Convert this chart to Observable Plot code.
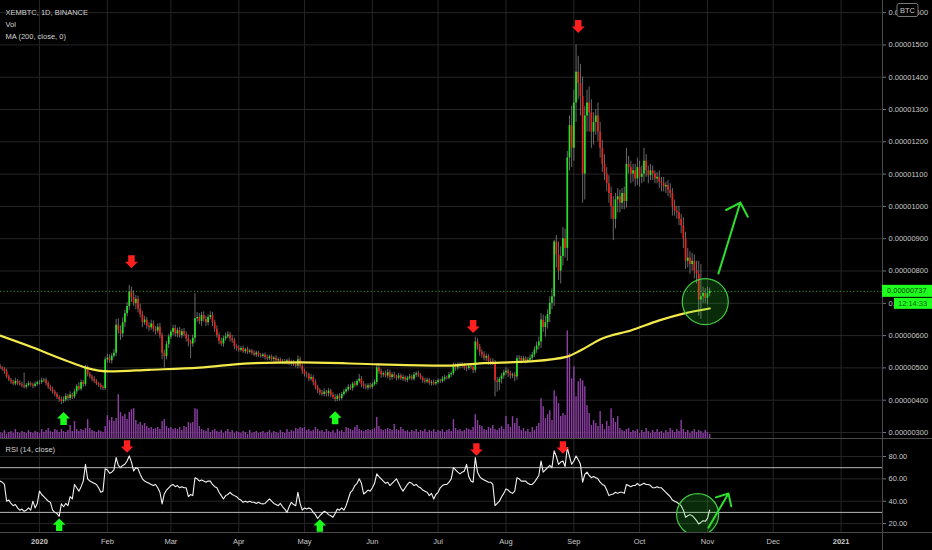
<!DOCTYPE html>
<html><head><meta charset="utf-8">
<script src="https://cdn.jsdelivr.net/npm/d3@7"></script>
<script src="https://cdn.jsdelivr.net/npm/@observablehq/plot@0.6"></script>
<style>
html,body{margin:0;padding:0;background:#000;}
#chart{position:relative;width:932px;height:550px;background:#000;overflow:hidden;}
#chart svg{position:absolute;left:0;background:transparent !important;}
</style></head>
<body><div id="chart"></div>
<script>
// ---------- DATA (prices in satoshi = 1e-8 BTC) ----------
const startDate = "2019-12-14";
const firstOpen = 505;
const close = [
500,496,488,472,462,456,450,458,452,448,
444,440,446,451,447,443,449,454,455,460,
462,452,440,432,425,418,408,402,396,400,
412,405,416,410,426,442,434,455,448,500,
480,472,465,458,450,446,440,436,525,530,
522,536,545,632,615,605,640,668,690,735,
718,700,712,682,665,640,648,630,624,636,
620,614,626,600,545,535,572,596,610,622,
605,615,600,612,604,590,580,574,592,652,
656,644,662,650,640,656,662,640,620,600,
582,574,590,596,602,590,584,566,560,555,
560,550,556,548,552,545,540,546,538,535,
540,532,528,534,526,530,522,525,518,520,
515,522,512,518,510,505,525,505,490,480,
478,465,470,455,440,430,422,418,425,420,
428,415,408,402,412,405,418,425,432,440,
436,450,446,458,465,448,442,438,445,440,
448,455,500,488,478,482,475,485,470,478,
472,468,475,466,470,462,468,472,465,478,
482,476,468,460,456,462,452,455,450,455,
460,458,465,470,468,478,482,505,500,510,
505,508,500,498,505,502,492,580,565,548,
540,530,535,520,518,515,460,455,465,475,
485,490,482,475,478,472,528,530,522,528,
520,524,530,540,555,568,580,648,625,640,
665,700,720,890,850,800,845,900,870,1150,
1250,1180,1320,1415,1380,1340,1100,1280,1320,1290,
1230,1260,1280,1230,1180,1130,1100,1070,1040,1000,
960,1020,1030,1010,1040,1015,1130,1120,1100,1110,
1085,1120,1090,1100,1140,1110,1095,1110,1100,1085,
1090,1075,1070,1060,1065,1050,1040,1000,985,980,
960,940,900,830,840,820,830,800,790,710,
720,730,715,730,737];
const wickUp = [
6,4,5,8,6,5,6,10,6,8,
8,40,6,7,5,6,8,5,6,8,
5,6,5,6,8,6,5,6,8,10,
8,6,10,6,8,6,12,8,6,8,
6,6,6,8,6,5,6,6,8,12,
10,8,12,18,20,15,15,10,12,20,
15,20,12,10,15,10,12,8,10,12,
10,8,10,12,8,10,10,8,6,10,
10,8,10,8,10,8,12,6,10,78,
15,12,10,12,10,8,12,10,8,10,
8,10,8,12,10,8,10,8,6,8,
6,8,5,8,6,5,8,6,5,6,
5,6,8,5,6,5,8,6,5,6,
6,5,8,6,5,6,12,8,6,6,
8,6,10,6,8,6,5,8,10,6,
8,6,8,10,6,8,6,8,6,8,
8,6,8,6,15,8,10,8,6,8,
6,8,8,12,8,6,8,10,8,6,
8,6,8,6,8,5,6,8,6,8,
6,8,6,5,8,6,5,6,8,6,
6,5,8,6,5,8,6,10,8,6,
6,8,6,5,8,6,10,15,10,8,
8,10,8,6,8,10,8,10,6,8,
8,10,6,8,6,8,10,8,6,8,
6,8,10,8,10,12,15,20,15,20,
15,20,25,5,20,40,30,35,30,20,
30,60,40,85,50,60,60,30,40,50,
40,30,20,40,30,25,30,20,25,20,
30,20,25,20,15,20,50,25,20,20,
20,30,20,25,40,20,15,20,15,10,
15,20,15,20,10,15,20,15,20,15,
20,15,25,20,30,20,25,20,30,40,
100,20,15,20,10];
const wickDown = [
5,6,8,6,5,7,5,6,6,5,
6,5,6,5,6,8,5,6,7,6,
6,8,6,5,6,8,6,8,10,6,
6,8,6,8,6,8,6,6,8,6,
8,6,8,6,5,6,8,6,6,10,
8,10,6,10,10,20,12,15,10,12,
15,10,20,12,10,15,8,10,12,8,
10,12,8,10,20,35,10,12,8,10,
10,12,8,10,8,10,15,45,10,15,
12,10,15,8,12,10,8,12,10,8,
10,8,10,8,6,10,8,10,8,6,
6,5,8,6,5,6,5,8,6,5,
5,8,6,5,6,8,5,6,5,8,
5,6,5,8,6,5,8,6,10,8,
10,8,6,10,8,10,8,6,8,10,
10,8,6,8,6,8,5,6,5,6,
6,8,6,5,6,10,8,6,8,6,
6,5,8,8,10,8,6,8,10,8,
6,8,6,5,8,6,8,6,5,6,
8,6,5,8,6,5,6,8,5,6,
5,6,5,8,6,5,8,6,10,8,
8,6,8,10,6,8,10,8,10,12,
10,8,10,12,10,8,50,30,25,15,
10,8,12,10,8,15,10,8,10,6,
8,6,8,10,8,10,12,20,15,30,
20,25,20,30,40,30,40,30,30,40,
40,60,40,60,50,60,90,80,50,60,
50,40,40,30,30,25,20,25,30,40,
66,30,40,30,20,25,20,20,30,25,
25,20,30,20,25,20,25,15,20,15,
15,20,25,15,20,20,15,30,15,20,
20,25,30,25,20,30,20,25,30,50,
60,20,15,20,10];
const volume = [
6,5,8,4,6,7,5,9,6,5,
7,6,5,8,6,5,7,6,5,9,
6,8,10,7,6,9,8,6,9,7,
6,8,13,7,17,9,7,9,8,10,
19,10,8,7,6,8,7,6,12,23,
18,21,17,20,44,26,22,24,19,26,
29,30,18,14,16,13,15,12,10,11,
9,10,11,9,17,19,12,10,11,9,
10,9,11,8,12,11,16,15,16,30,
29,12,9,8,7,10,6,8,9,7,
6,8,5,7,9,6,8,5,7,6,
5,7,6,4,8,5,6,7,5,6,
7,5,6,8,5,7,6,5,8,6,
5,9,6,8,7,10,9,11,10,11,
8,9,7,8,11,9,7,8,6,9,
7,6,8,5,9,7,8,6,11,10,
9,8,11,13,9,8,7,8,9,8,
9,10,21,12,9,8,9,10,9,8,
14,9,8,11,9,7,8,6,8,7,
9,6,8,7,9,6,8,7,9,6,
8,7,9,6,8,9,7,19,10,8,
9,7,8,10,9,8,11,24,18,13,
12,9,8,11,10,13,9,8,10,12,
9,22,14,11,22,15,20,12,8,10,
7,9,6,11,8,12,15,40,32,20,
24,28,18,48,42,35,22,25,23,108,
85,60,72,42,57,60,58,52,33,25,
13,18,15,12,27,14,9,17,12,30,
20,16,22,10,8,7,9,10,6,8,
7,9,5,8,6,10,7,5,8,6,
9,6,7,5,8,6,10,8,6,9,
7,18,9,6,8,5,7,9,6,8,
7,5,8,6,4];
const rsi = [
58,57,55,40,41,38,36,37,34,32,
33,31,32,34,32,40,34,38,49,46,
44,42,40,39,32,30,29,26.5,37.6,35,
38,36,44,42,55,52,49,53,58,73,
60,58,57,56,55,52,48,49,69,68,
65,66,68,79,72,70,72,73,76,80.5,
75,67,70,69,64,60,58,57,56,55,
54,55,52,48,37.6,46.5,50,52,54,55,
53,54,52,53,52,52,44,46,45,61,
60,58,59,58,57,58,58,55,53,52,
48,45,42,45,46,48,46,45,44,42,
41,39,40,39,40,39,39,38,39,38,
37.6,38,40,42,40,38,37,36,38,35,
33,30,35,39,37,36,48,38,32,34,
33,34,33,30,28,24.6,27,29,31,30,
28,27,25.6,29,33,32,34,32,36,42,
48,50,54,56,60,56,46.5,48,50,49,
52,56,64.5,62,60,58,56,57,54,56,
58,60,56,52,49,52,55,57,56,54,
55,53,52,50,49,48,45,47,42,46,
48,52,54,55,55,57,60,70,68,66,
64.5,66,67,73,62,58,57,79,66,62,
60,59,58,57,57,55,36,38,40,44,
47,51,50,48,47,49,61,60,58,58,
58,56,55,55,57,60,63,76,66,68,
70,72,70,85,80,73,75,76,71,88,
80,73,76,80.5,77,73,57,64,66,63,
61,62,61,60,57,55,54,50,45,46,
46.5,48,47,48,48,47,55,54,53,54,
54,56,54,55,56,55,55,54,52,52,
53,52,52,50,48,46,44,41,40,39,
37.6,36,32,25.6,27,28,27,25,22.6,19.6,
21,22.6,22,24.6,32];
const maDates = ["2019-12-14","2019-12-29","2020-01-13","2020-01-22","2020-02-02","2020-02-20","2020-03-14","2020-04-06","2020-04-29","2020-06-04","2020-07-05","2020-07-20","2020-08-12","2020-08-29","2020-09-04","2020-09-14","2020-09-27","2020-10-10","2020-10-21","2020-11-02"];
const maValues = [600,563,523,501,489,494,501,514,517,511,507,514,520,535,554,591,616,647,668,684];

const priceTicks = [300,400,500,600,700,800,900,1000,1100,1200,1300,1400,1500,1600];
const rsiTicks = [20,40,60,80];
const rsiBands = [70,30];
const xTickDates = ["2020-01-01","2020-02-01","2020-03-01","2020-04-01","2020-05-01","2020-06-01","2020-07-01","2020-08-01","2020-09-01","2020-10-01","2020-11-01","2020-12-01","2021-01-01"];
const xTickLabels = ["2020","Feb","Mar","Apr","May","Jun","Jul","Aug","Sep","Oct","Nov","Dec","2021"];
const headerLines = ["XEMBTC, 1D, BINANCE","Vol","MA (200, close, 0)"];
const rsiTitle = "RSI (14, close)";
const lastPrice = 737, lastPriceLabel = "0.00000737", countdown = "12:14:33", currency = "BTC";

const downArrowDates = ["2020-02-12","2020-07-17","2020-09-03"], downArrowPrices = [829,628,1557];
const upArrowDates = ["2020-01-12","2020-05-15"], upArrowPrices = [343,346];
const rsiDownDates = ["2020-02-10","2020-07-18T12:00Z","2020-08-27"], rsiDownValues = [89,86.3,88];
const rsiUpDates = ["2020-01-10","2020-05-08"], rsiUpValues = [19,18.2];
const circleMain = {date:"2020-10-31", value:705, r:23};
const circleRsi = {date:"2020-10-27T12:00Z", value:28, r:21};
const trendMain = {d1:"2020-11-06", v1:792, d2:"2020-11-16", v2:1012};
const trendRsi = {d1:"2020-11-01T12:00Z", v1:16.4, d2:"2020-11-10T14:00Z", v2:46.9};

// ---------- BUILD ----------
const D = s => new Date(s.length === 10 ? s + "T00:00Z" : s);
const t0 = D(startDate), DAY = 864e5;
const bars = close.map((c, i) => {
  const o = i ? close[i-1] : firstOpen;
  return {date: new Date(+t0 + i*DAY), open: o, close: c,
    high: Math.max(o,c) + wickUp[i], low: Math.min(o,c) - wickDown[i],
    volume: volume[i], rsi: rsi[i]};
});
const ma = maDates.map((d,i) => ({date: D(d), value: maValues[i]}));
const xTicks = xTickDates.map(D);
const monthTicks = xTicks.filter(d => d.getUTCMonth() !== 0);
const yearTicks = xTicks.filter(d => d.getUTCMonth() === 0);
const labelOf = d => xTickLabels[xTicks.findIndex(t => +t === +d)];
const pts = (ds, vs) => ds.map((d,i) => ({date: D(d), value: vs[i]}));

const xScale = {type: "utc", domain: [new Date("2019-12-14T05:00Z"), new Date("2021-01-19T22:00Z")], axis: null};
const W = 932, MR = 50, MAIN_H = 438, RSI_H = 112, RSI_MB = 18;
const FONT = "Liberation Sans, Arial, sans-serif";
const TXT = "#c9c9c9", GRID = "#262626", SEP = "#4a4a4a";
const UP = "#26e326", DOWN = "#e8261e", ARROW_G = "#19ff19", ARROW_R = "#ff1f1f";

const arrowDown = {draw(ctx, size){ const r = Math.sqrt(size/Math.PI);
  ctx.moveTo(-0.5*r,-r); ctx.lineTo(0.5*r,-r); ctx.lineTo(0.5*r,0); ctx.lineTo(r,0);
  ctx.lineTo(0,r); ctx.lineTo(-r,0); ctx.lineTo(-0.5*r,0); ctx.closePath(); }};
const arrowUp = {draw(ctx, size){ const r = Math.sqrt(size/Math.PI);
  ctx.moveTo(-0.5*r,r); ctx.lineTo(0.5*r,r); ctx.lineTo(0.5*r,0); ctx.lineTo(r,0);
  ctx.lineTo(0,-r); ctx.lineTo(-r,0); ctx.lineTo(-0.5*r,0); ctx.closePath(); }};

const baseStyle = {background: "transparent", color: TXT, fontFamily: FONT, fontSize: "7.5px"};
const chart = document.getElementById("chart");
function place(svg, top){ svg.style.position = "absolute"; svg.style.top = top + "px"; svg.style.left = "0px"; chart.appendChild(svg); }

// axis line on the right of a pane
const axisLine = (index, scales, values, dim) => {
  const g = d3.create("svg:g");
  const x = dim.width - dim.marginRight + 0.5;
  g.append("line").attr("x1", x).attr("x2", x).attr("y1", 0).attr("y2", dim.height).attr("stroke", SEP);
  return g.node();
};

// Layer 1: grid + price axis + currency badge
const layer1 = Plot.plot({
  width: W, height: MAIN_H, marginLeft: 0, marginRight: MR, marginTop: 0, marginBottom: 0,
  style: baseStyle, x: xScale, y: {domain: [281.4, 1637.5], axis: null},
  marks: [
    Plot.gridX(xTicks, {stroke: GRID, strokeOpacity: 1}),
    Plot.gridY(priceTicks, {stroke: GRID, strokeOpacity: 1}),
    Plot.axisY(priceTicks, {anchor: "right", tickSize: 3, tickPadding: 3, stroke: "#777", label: null,
      tickFormat: d => (d/1e8).toFixed(8)}),
    axisLine,
    (index, scales, values, dim) => {
      const g = d3.create("svg:g");
      const x0 = dim.width - dim.marginRight + 15;
      g.append("rect").attr("x", x0).attr("y", 3.5).attr("width", 21).attr("height", 13).attr("rx", 2)
        .attr("fill", "#000").attr("stroke", "#777");
      g.append("text").attr("x", x0 + 10.5).attr("y", 10).attr("dy", "0.35em").attr("text-anchor", "middle")
        .attr("fill", TXT).attr("font-size", "7.5px").text(currency);
      return g.node();
    }
  ]
});
place(layer1, 0);

// Layer 2: volume
const layer2 = Plot.plot({
  width: W, height: MAIN_H, marginLeft: 0, marginRight: MR, marginTop: 0, marginBottom: 0,
  style: baseStyle, x: xScale, y: {domain: [0, 440], axis: null},
  marks: [
    Plot.ruleX(bars, {x: "date", y1: 0, y2: "volume", stroke: "#8e3fa6", strokeWidth: 1.4})
  ]
});
place(layer2, 0);

// Layer 3: candles, MA, annotations
const layer3 = Plot.plot({
  width: W, height: MAIN_H, marginLeft: 0, marginRight: MR, marginTop: 0, marginBottom: 0,
  style: baseStyle, x: xScale, y: {domain: [281.4, 1637.5], axis: null},
  color: {type: "identity"},
  marks: [
    Plot.ruleY([lastPrice], {stroke: "#2f9a2f", strokeDasharray: "1.2,2.2"}),
    Plot.ruleX(bars, {x: "date", y1: "low", y2: "high", stroke: "#9a9a9a", strokeOpacity: 0.85, strokeWidth: 0.8}),
    Plot.ruleX(bars, {x: "date", y1: "open", y2: d => d.close === d.open ? d.close + 1.5 : d.close,
      stroke: d => d.close >= d.open ? UP : DOWN, strokeWidth: 1.7}),
    Plot.line(ma, {x: "date", y: "value", stroke: "#f4e94a", strokeWidth: 2.2, curve: "monotone-x"}),
    Plot.dot([circleMain], {x: d => D(d.date), y: "value", r: circleMain.r, fill: "#2bd62b", fillOpacity: 0.2, stroke: "#43c943", strokeWidth: 1.2}),
    Plot.arrow([trendMain], {x1: d => D(d.d1), y1: "v1", x2: d => D(d.d2), y2: "v2", stroke: "#2ee02e", strokeWidth: 2, headLength: 12, headAngle: 90}),
    Plot.dot(pts(downArrowDates, downArrowPrices), {x: "date", y: "value", symbol: arrowDown, r: 6.5, fill: ARROW_R, stroke: null}),
    Plot.dot(pts(upArrowDates, upArrowPrices), {x: "date", y: "value", symbol: arrowUp, r: 6.5, fill: ARROW_G, stroke: null}),
    Plot.text([headerLines.join("\n")], {frameAnchor: "top-left", dx: 5, dy: 6, lineHeight: 1.6, fill: "#d4d4d4", fontSize: 7.5}),
    (index, scales, values, dim) => {
      const y = scales.y(lastPrice);
      const x0 = dim.width - dim.marginRight;
      const g = d3.create("svg:g").attr("font-size", "7.5px").attr("text-anchor", "start");
      g.append("rect").attr("x", x0).attr("y", y - 6).attr("width", dim.marginRight).attr("height", 12).attr("fill", "#1eff1e");
      g.append("text").attr("x", x0 + 5).attr("y", y).attr("dy", "0.35em").attr("text-anchor", "start").attr("fill", "#0b3f0b").text(lastPriceLabel);
      g.append("rect").attr("x", x0 + 12).attr("y", y + 7).attr("width", dim.marginRight - 12).attr("height", 11).attr("fill", "#1eff1e");
      g.append("text").attr("x", x0 + 16).attr("y", y + 12.5).attr("dy", "0.35em").attr("text-anchor", "start").attr("fill", "#0b5a0b").text(countdown);
      return g.node();
    }
  ]
});
place(layer3, 0);

// Layer 4: RSI pane + date axis
const layer4 = Plot.plot({
  width: W, height: RSI_H, marginLeft: 0, marginRight: MR, marginTop: 0, marginBottom: RSI_MB,
  style: baseStyle, x: xScale, y: {domain: [12, 96.1], axis: null},
  marks: [
    Plot.gridX(xTicks, {stroke: GRID, strokeOpacity: 1}),
    Plot.gridY(rsiTicks, {stroke: GRID, strokeOpacity: 1}),
    Plot.ruleY(rsiBands, {stroke: "#b8b8b8", strokeWidth: 1}),
    Plot.line(bars, {x: "date", y: "rsi", stroke: "#f2f2f2", strokeWidth: 1.1}),
    Plot.dot([circleRsi], {x: d => D(d.date), y: "value", r: circleRsi.r, fill: "#2bd62b", fillOpacity: 0.2, stroke: "#43c943", strokeWidth: 1.2, clip: "frame"}),
    Plot.arrow([trendRsi], {x1: d => D(d.d1), y1: "v1", x2: d => D(d.d2), y2: "v2", stroke: "#2ee02e", strokeWidth: 2, headLength: 12, headAngle: 85}),
    Plot.dot(pts(rsiDownDates, rsiDownValues), {x: "date", y: "value", symbol: arrowDown, r: 6.3, fill: ARROW_R, stroke: null}),
    Plot.dot(pts(rsiUpDates, rsiUpValues), {x: "date", y: "value", symbol: arrowUp, r: 6.3, fill: ARROW_G, stroke: null}),
    Plot.axisY(rsiTicks, {anchor: "right", tickSize: 3, tickPadding: 3, stroke: "#777", label: null, tickFormat: d => d.toFixed(2)}),
    Plot.axisX(monthTicks, {anchor: "bottom", tickSize: 0, tickPadding: 6, label: null, tickFormat: labelOf}),
    Plot.axisX(yearTicks, {anchor: "bottom", tickSize: 0, tickPadding: 6, label: null, tickFormat: labelOf, fontWeight: "bold"}),
    Plot.text([rsiTitle], {frameAnchor: "top-left", dx: 5, dy: 8, fill: "#d4d4d4", fontSize: 7.5}),
    axisLine,
    (index, scales, values, dim) => {
      const g = d3.create("svg:g");
      const yb = dim.height - dim.marginBottom + 0.5;
      g.append("line").attr("x1", 0).attr("x2", dim.width).attr("y1", 0.5).attr("y2", 0.5).attr("stroke", SEP);
      g.append("line").attr("x1", 0).attr("x2", dim.width).attr("y1", yb).attr("y2", yb).attr("stroke", SEP);
      return g.node();
    }
  ]
});
place(layer4, MAIN_H);
</script>
</body></html>
